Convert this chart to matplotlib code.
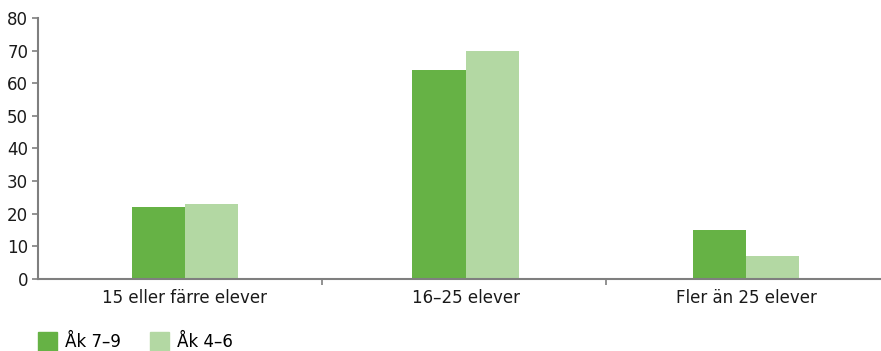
import matplotlib.pyplot as plt
import numpy as np
from matplotlib.patches import Patch

categories = ["15 eller färre elever", "16–25 elever", "Fler än 25 elever"]
ak79 = [22, 64, 15]
ak46 = [23, 70, 7]

dark = "#66b245"
light = "#b3d8a3"
grey = "#7f7f7f"
txt = "#1a1a1a"

plt.rcParams['font.family'] = ['DejaVu Sans']

fig = plt.figure(figsize=(8.81, 3.51), dpi=100)
ax = fig.add_axes([0.0431, 0.205, 0.957, 0.744])

x = np.arange(len(categories))
w = 0.19
ax.bar(x - w / 2, ak79, w, color=dark, zorder=2)
ax.bar(x + w / 2, ak46, w, color=light, zorder=2)

ax.set_xlim(-0.524, 2.481)
ax.set_ylim(0, 80)
ax.set_yticks(range(0, 81, 10))
ax.set_xticks(x)
ax.set_xticklabels(categories, fontsize=12, color=txt)
ax.set_xticks([0.49, 1.5], minor=True)
ax.tick_params(axis='x', which='major', length=0, pad=7)
ax.tick_params(axis='x', which='minor', length=4, color=grey, width=1.2)
ax.tick_params(axis='y', length=4, color=grey, width=1.2, labelsize=12,
               labelcolor=txt, pad=3)

for side in ['top', 'right']:
    ax.spines[side].set_visible(False)
for side in ['left', 'bottom']:
    ax.spines[side].set_color(grey)
    ax.spines[side].set_linewidth(1.5)

handles = [Patch(color=dark, label="Åk 7–9"), Patch(color=light, label="Åk 4–6")]
fig.legend(handles=handles, loc='lower left', bbox_to_anchor=(0.0431, 0.0),
           ncol=2, frameon=False, fontsize=12, handlelength=1.15,
           handleheight=1.3, handletextpad=0.5, columnspacing=1.7,
           borderpad=0, borderaxespad=0)

fig.savefig("out.png", dpi=100)
